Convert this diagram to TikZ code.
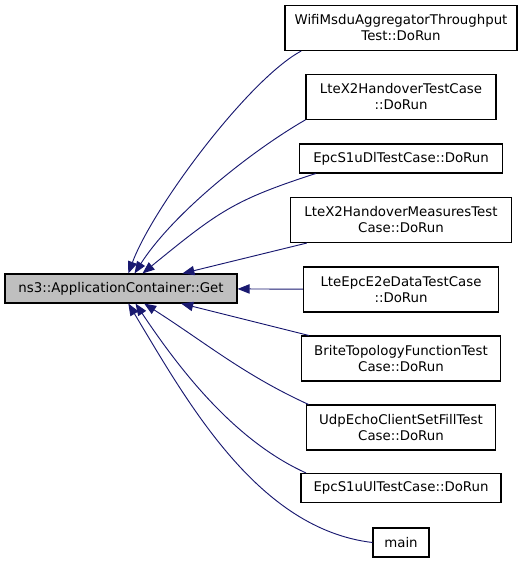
\documentclass[tikz,border=0pt]{standalone}
\usepackage{fontspec}
\setmainfont{DejaVu Sans}
\usetikzlibrary{arrows.meta}

\definecolor{callblue}{RGB}{25,25,112}
\definecolor{boxgray}{RGB}{191,191,191}

\tikzset{
  fnbox/.style={draw=black, line width=0.8pt, fill=white, align=center,
    inner sep=0pt, minimum height=33.75pt, font=\fontsize{10}{12}\selectfont},
  onebox/.style={fnbox, minimum height=21.75pt},
  callarrow/.style={draw=callblue, line width=0.7pt,
    -{Triangle[length=9pt,width=7pt]}}
}

\begin{document}
\begin{tikzpicture}[x=0.75pt, y=-0.75pt]

% Fix the page size
\useasboundingbox (0,0) rectangle (523,563);

% The called function
\node[onebox, fill=boxgray, minimum width=174pt] (get) at (121,288.5) {ns3::ApplicationContainer::Get};

% Callers
\node[fnbox, minimum width=174pt] (wifi) at (401,28) {WifiMsduAggregatorThroughput\\Test::DoRun};
\node[fnbox, minimum width=142.5pt] (ltex2) at (401,96.8) {LteX2HandoverTestCase\\::DoRun};
\node[onebox, minimum width=152pt] (dl) at (401,158.5) {EpcS1uDlTestCase::DoRun};
\node[fnbox, minimum width=165.75pt] (measures) at (401,220) {LteX2HandoverMeasuresTest\\Case::DoRun};
\node[fnbox, minimum width=146.25pt] (e2e) at (401,289.5) {LteEpcE2eDataTestCase\\::DoRun};
\node[fnbox, minimum width=149.25pt] (brite) at (401,358.5) {BriteTopologyFunctionTest\\Case::DoRun};
\node[fnbox, minimum width=141.75pt] (udp) at (401,427.5) {UdpEchoClientSetFillTest\\Case::DoRun};
\node[onebox, minimum width=150pt] (ul) at (401,488) {EpcS1uUlTestCase::DoRun};
\node[onebox, minimum width=42pt] (main) at (401,542.5) {main};

% Calls above
\draw[callarrow] (wifi.193) .. controls (249,79) and (153,207) .. (get.64);
\draw[callarrow] (ltex2.south west) .. controls (253,150) and (174,212) .. (get.48);
\draw[callarrow] (dl.190) .. controls (234,200) and (219,211) .. (get.35);
\draw[callarrow] (measures) -- (get);

% Straight across
\draw[callarrow] (e2e) -- (get);

% Calls below
\draw[callarrow] (brite) -- (get);
\draw[callarrow] (udp.166) .. controls (244,375) and (206,343) .. (get.327);
\draw[callarrow] (ul.171) .. controls (233,440) and (178,367) .. (get.314);
\draw[callarrow] (main.west) .. controls (258,529) and (188,403) .. (get.296);

\end{tikzpicture}
\end{document}
